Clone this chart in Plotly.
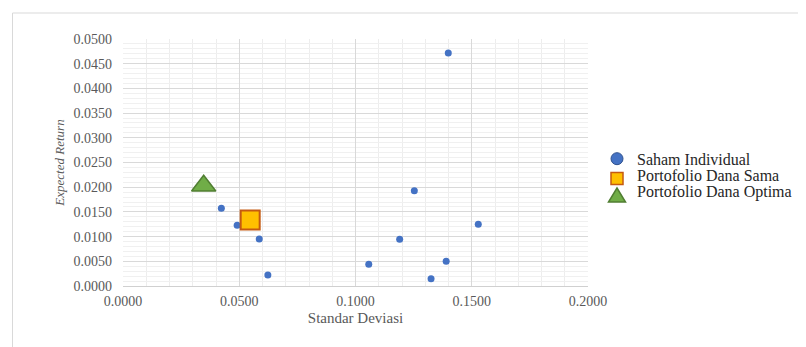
import plotly.graph_objects as go

# Data
saham_sd = [0.0423, 0.0491, 0.0586, 0.0623, 0.1057, 0.1190, 0.1253, 0.1325, 0.1390, 0.1399, 0.1528]
saham_er = [0.01575, 0.0123, 0.00953, 0.00223, 0.0044, 0.00946, 0.0193, 0.00148, 0.0050, 0.04716, 0.0125]
sama_sd = [0.0547]
sama_er = [0.01338]
optima_sd = [0.0347]
optima_er = [0.0203]

series_names = ["Saham Individual", "Portofolio Dana Sama", "Portofolio Dana Optima"]
x_ticks = [0.0, 0.05, 0.10, 0.15, 0.20]
y_ticks = [i * 0.005 for i in range(11)]

font_family = "Liberation Serif, Times New Roman, serif"
grey = "#595959"
blue, gold, gold_edge, green, green_edge = "#4472C4", "#FFC000", "#C55A11", "#70AD47", "#507E32"

fig = go.Figure()
fig.add_trace(go.Scatter(x=saham_sd, y=saham_er, mode="markers", name=series_names[0],
                         marker=dict(symbol="circle", size=7, color=blue, line=dict(width=0))))
fig.add_trace(go.Scatter(x=sama_sd, y=sama_er, mode="markers", name=series_names[1],
                         marker=dict(symbol="square", size=19, color=gold,
                                     line=dict(width=2, color=gold_edge))))
fig.add_trace(go.Scatter(x=optima_sd, y=optima_er, mode="markers", name=series_names[2],
                         marker=dict(symbol="triangle-up", size=21, color=green,
                                     line=dict(width=1.5, color=green_edge))))

# figure sits inside the page's 8px body margin
W, H = 798, 339
L, R, T, B = 115, 580, 31, 278
pw, ph = R - L, B - T


def px(xp):
    return (xp - L) / pw


def py(yp):
    return (B - yp) / ph


# manual legend (to match the tight spacing of the original)
leg_sym_x = 609
leg_text_x = 627
leg_sym_y = [150.7, 170.5, 187.0]
leg_text_y = [151, 167.5, 184]

shapes = [dict(type="rect", xref="paper", yref="paper",
               x0=px(4.5), x1=px(W + 20), y0=py(H + 20), y1=py(5),
               line=dict(color="#d9d9d9", width=1), fillcolor="rgba(0,0,0,0)", layer="below")]
common = dict(xref="paper", yref="paper", xsizemode="pixel", ysizemode="pixel")
shapes.append(dict(type="circle", xanchor=px(leg_sym_x), yanchor=py(leg_sym_y[0]),
                   x0=-6, x1=6, y0=-6, y1=6, fillcolor=blue, line=dict(width=1, color="#2F528F"),
                   **common))
shapes.append(dict(type="rect", xanchor=px(leg_sym_x), yanchor=py(leg_sym_y[1]),
                   x0=-6, x1=6, y0=-6, y1=6, fillcolor=gold, line=dict(width=1.5, color=gold_edge),
                   **common))
shapes.append(dict(type="path", xanchor=px(leg_sym_x), yanchor=py(leg_sym_y[2]),
                   path="M -8.5,-7 L 8.5,-7 L 0,7 Z", fillcolor=green,
                   line=dict(width=1.5, color=green_edge), **common))

annotations = [dict(x=px(leg_text_x), y=py(ty), xref="paper", yref="paper", xanchor="left",
                    yanchor="middle", showarrow=False, text=name,
                    font=dict(family=font_family, size=16, color="#262626"))
               for name, ty in zip(series_names, leg_text_y)]

fig.update_layout(
    width=W, height=H,
    margin=dict(l=L, r=W - R, t=T, b=H - B),
    paper_bgcolor="white", plot_bgcolor="white",
    font=dict(family=font_family, size=14, color=grey),
    showlegend=False,
    xaxis=dict(range=[0, 0.2], tickvals=x_ticks, tickformat=".4f",
               showgrid=True, gridcolor="#d9d9d9", gridwidth=1,
               minor=dict(dtick=0.01, showgrid=True, gridcolor="#ededed", gridwidth=1),
               showline=True, linecolor="#d0d0d0", linewidth=1, zeroline=False,
               ticks="", ticklabelstandoff=2, tickfont=dict(size=14, color=grey),
               title=dict(text="Standar Deviasi", font=dict(size=15, color=grey), standoff=4)),
    yaxis=dict(range=[0, 0.05], tickvals=y_ticks, tickformat=".4f",
               showgrid=True, gridcolor="#d9d9d9", gridwidth=1,
               minor=dict(dtick=0.001, showgrid=True, gridcolor="#f0f0f0", gridwidth=1),
               showline=False, zeroline=False, ticks="", ticklabelstandoff=10,
               tickfont=dict(size=14, color=grey),
               title=dict(text="<i>Expected Return</i>", font=dict(size=13, color=grey), standoff=5)),
    shapes=shapes,
    annotations=annotations,
)

fig.write_html("out.html")
